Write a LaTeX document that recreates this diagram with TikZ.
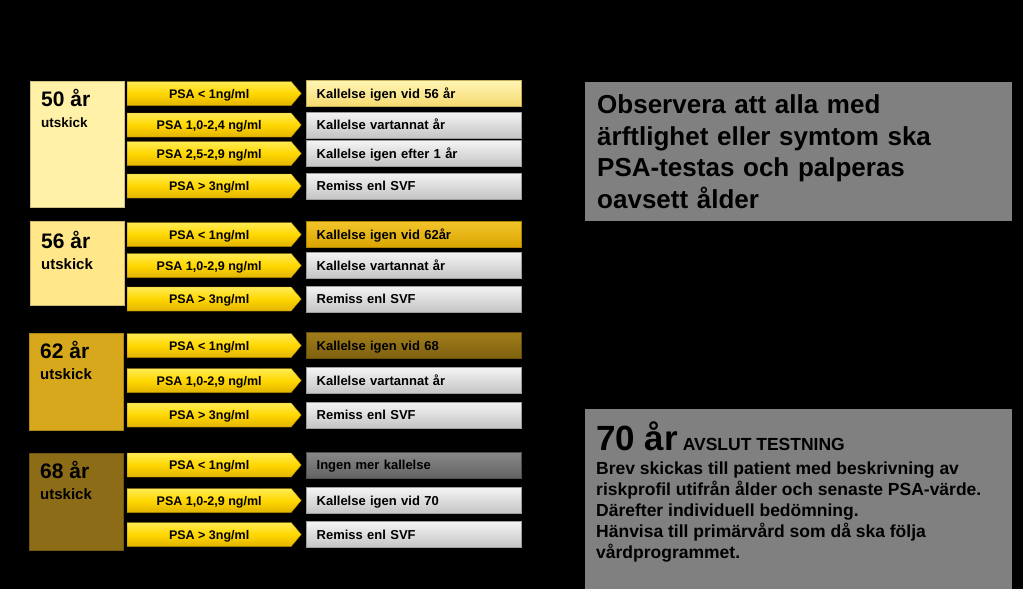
\documentclass[tikz,border=0pt]{standalone}
\usepackage{fontspec}
\setmainfont{Liberation Sans}
\usetikzlibrary{positioning}
\usetikzlibrary{shapes.symbols}

\definecolor{ageFifty}{HTML}{FFF2A8}
\definecolor{ageFiftySix}{HTML}{FFE78A}
\definecolor{ageSixtyTwo}{HTML}{D8A81C}
\definecolor{ageSixtyEight}{HTML}{8C6C16}
\definecolor{arrowTop}{HTML}{FFEB55}
\definecolor{arrowMid}{HTML}{FFD700}
\definecolor{arrowBottom}{HTML}{E2B400}
\definecolor{arrowEdge}{HTML}{B89000}
\definecolor{resTop}{HTML}{F4F4F4}
\definecolor{resBottom}{HTML}{C4C4C4}
\definecolor{resFiftyTop}{HTML}{FFF5B5}
\definecolor{resFiftyBottom}{HTML}{F6DA70}
\definecolor{resFiftySixTop}{HTML}{F2C42A}
\definecolor{resFiftySixBottom}{HTML}{D9A500}
\definecolor{resSixtyTwoTop}{HTML}{A07C1A}
\definecolor{resSixtyTwoBottom}{HTML}{7E600E}
\definecolor{resSixtyEightTop}{HTML}{888888}
\definecolor{resSixtyEightBottom}{HTML}{636363}
\definecolor{noteGray}{HTML}{808080}

\begin{document}
\begin{tikzpicture}[x=1pt, y=-1pt, node distance=5pt,
    ageBox/.style={draw=#1!80!black, fill=#1, anchor=north west, inner sep=0pt, minimum width=94pt},
    ageText/.style={align=left, inner sep=0pt, font=\fontsize{15}{21}\selectfont\bfseries},
    psaArrow/.style={signal, signal to=east, signal pointer angle=100, draw=arrowEdge, top color=arrowTop, bottom color=arrowBottom, middle color=arrowMid, minimum width=174pt, minimum height=24pt, inner sep=0pt, text height=9pt, text depth=0pt, anchor=west, font=\fontsize{12.5}{14}\selectfont\bfseries},
    resBox/.style 2 args={draw=#2!80!black, top color=#1, bottom color=#2, minimum height=26pt, text width=195pt, inner xsep=10pt, inner ysep=0pt, text height=9.3pt, text depth=0pt, align=left, font=\fontsize{13}{15}\selectfont\bfseries},
    resGray/.style={resBox={resTop}{resBottom}},
    noteBox/.style={fill=noteGray, anchor=north west, inner sep=0pt},
  ]
    \fill[black] (0,0) rectangle (1023,589);

    % 50 years
    \node[ageBox=ageFifty, minimum height=126pt] (age_50) at (30,81) {};
    \node[ageText, font=\fontsize{13.5}{21}\selectfont\bfseries, below right=8pt and 11pt of age_50.north west] (age_50_text) {{\fontsize{21}{21}\selectfont 50 år}\\utskick};

    \node[psaArrow] (psa_50_1) at (127,93.5) {PSA < 1ng/ml};
    \node[psaArrow] (psa_50_2) at (127,125) {PSA 1,0-2,4 ng/ml};
    \node[psaArrow] (psa_50_3) at (127,153.5) {PSA 2,5-2,9 ng/ml};
    \node[psaArrow] (psa_50_4) at (127,186) {PSA > 3ng/ml};

    \node[resBox={resFiftyTop}{resFiftyBottom}, right=of psa_50_1] (res_50_1) {Kallelse igen vid 56 år};
    \node[resGray, right=of psa_50_2] (res_50_2) {Kallelse vartannat år};
    \node[resGray, right=of psa_50_3] (res_50_3) {Kallelse igen efter 1 år};
    \node[resGray, right=of psa_50_4] (res_50_4) {Remiss enl SVF};

    % 56 years
    \node[ageBox=ageFiftySix, minimum height=84pt] (age_56) at (30,221) {};
    \node[ageText, below right=10pt and 11pt of age_56.north west] (age_56_text) {{\fontsize{21}{21}\selectfont 56 år}\\utskick};

    \node[psaArrow] (psa_56_1) at (127,234.5) {PSA < 1ng/ml};
    \node[psaArrow] (psa_56_2) at (127,265.5) {PSA 1,0-2,9 ng/ml};
    \node[psaArrow] (psa_56_3) at (127,299) {PSA > 3ng/ml};

    \node[resBox={resFiftySixTop}{resFiftySixBottom}, right=of psa_56_1] (res_56_1) {Kallelse igen vid 62år};
    \node[resGray, right=of psa_56_2] (res_56_2) {Kallelse vartannat år};
    \node[resGray, right=of psa_56_3] (res_56_3) {Remiss enl SVF};

    % 62 years
    \node[ageBox=ageSixtyTwo, minimum height=97pt] (age_62) at (29,333) {};
    \node[ageText, below right=8pt and 11pt of age_62.north west] (age_62_text) {{\fontsize{21}{21}\selectfont 62 år}\\utskick};

    \node[psaArrow] (psa_62_1) at (127,345.5) {PSA < 1ng/ml};
    \node[psaArrow] (psa_62_2) at (127,380.5) {PSA 1,0-2,9 ng/ml};
    \node[psaArrow] (psa_62_3) at (127,415) {PSA > 3ng/ml};

    \node[resBox={resSixtyTwoTop}{resSixtyTwoBottom}, right=of psa_62_1] (res_62_1) {Kallelse igen vid 68};
    \node[resGray, right=of psa_62_2] (res_62_2) {Kallelse vartannat år};
    \node[resGray, right=of psa_62_3] (res_62_3) {Remiss enl SVF};

    % 68 years
    \node[ageBox=ageSixtyEight, minimum height=97pt] (age_68) at (29,453) {};
    \node[ageText, below right=8pt and 11pt of age_68.north west] (age_68_text) {{\fontsize{21}{21}\selectfont 68 år}\\utskick};

    \node[psaArrow] (psa_68_1) at (127,465) {PSA < 1ng/ml};
    \node[psaArrow] (psa_68_2) at (127,500.5) {PSA 1,0-2,9 ng/ml};
    \node[psaArrow] (psa_68_3) at (127,534.5) {PSA > 3ng/ml};

    \node[resBox={resSixtyEightTop}{resSixtyEightBottom}, right=of psa_68_1] (res_68_1) {Ingen mer kallelse};
    \node[resGray, right=of psa_68_2] (res_68_2) {Kallelse igen vid 70};
    \node[resGray, right=of psa_68_3] (res_68_3) {Remiss enl SVF};

    % notes on the right
    \node[noteBox, minimum width=427pt, minimum height=139pt, text width=403pt, inner xsep=12pt, align=left, font=\fontsize{26}{31.5}\selectfont\bfseries] (note_top) at (585,82) {Observera att alla med\\ärftlighet eller symtom ska\\PSA-testas och palperas\\oavsett ålder};

    \node[noteBox, minimum width=427pt, minimum height=180pt] (note_bottom) at (585,409) {};
    \node[align=left, inner sep=0pt, font=\fontsize{17.5}{21}\selectfont\bfseries, below right=12pt and 11pt of note_bottom.north west] (note_bottom_text) {{\fontsize{35}{35}\selectfont 70 år} AVSLUT TESTNING\\[3pt]Brev skickas till patient med beskrivning av\\riskprofil utifrån ålder och senaste PSA-värde.\\Därefter individuell bedömning.\\Hänvisa till primärvård som då ska följa\\vårdprogrammet.};
  \end{tikzpicture}
\end{document}
